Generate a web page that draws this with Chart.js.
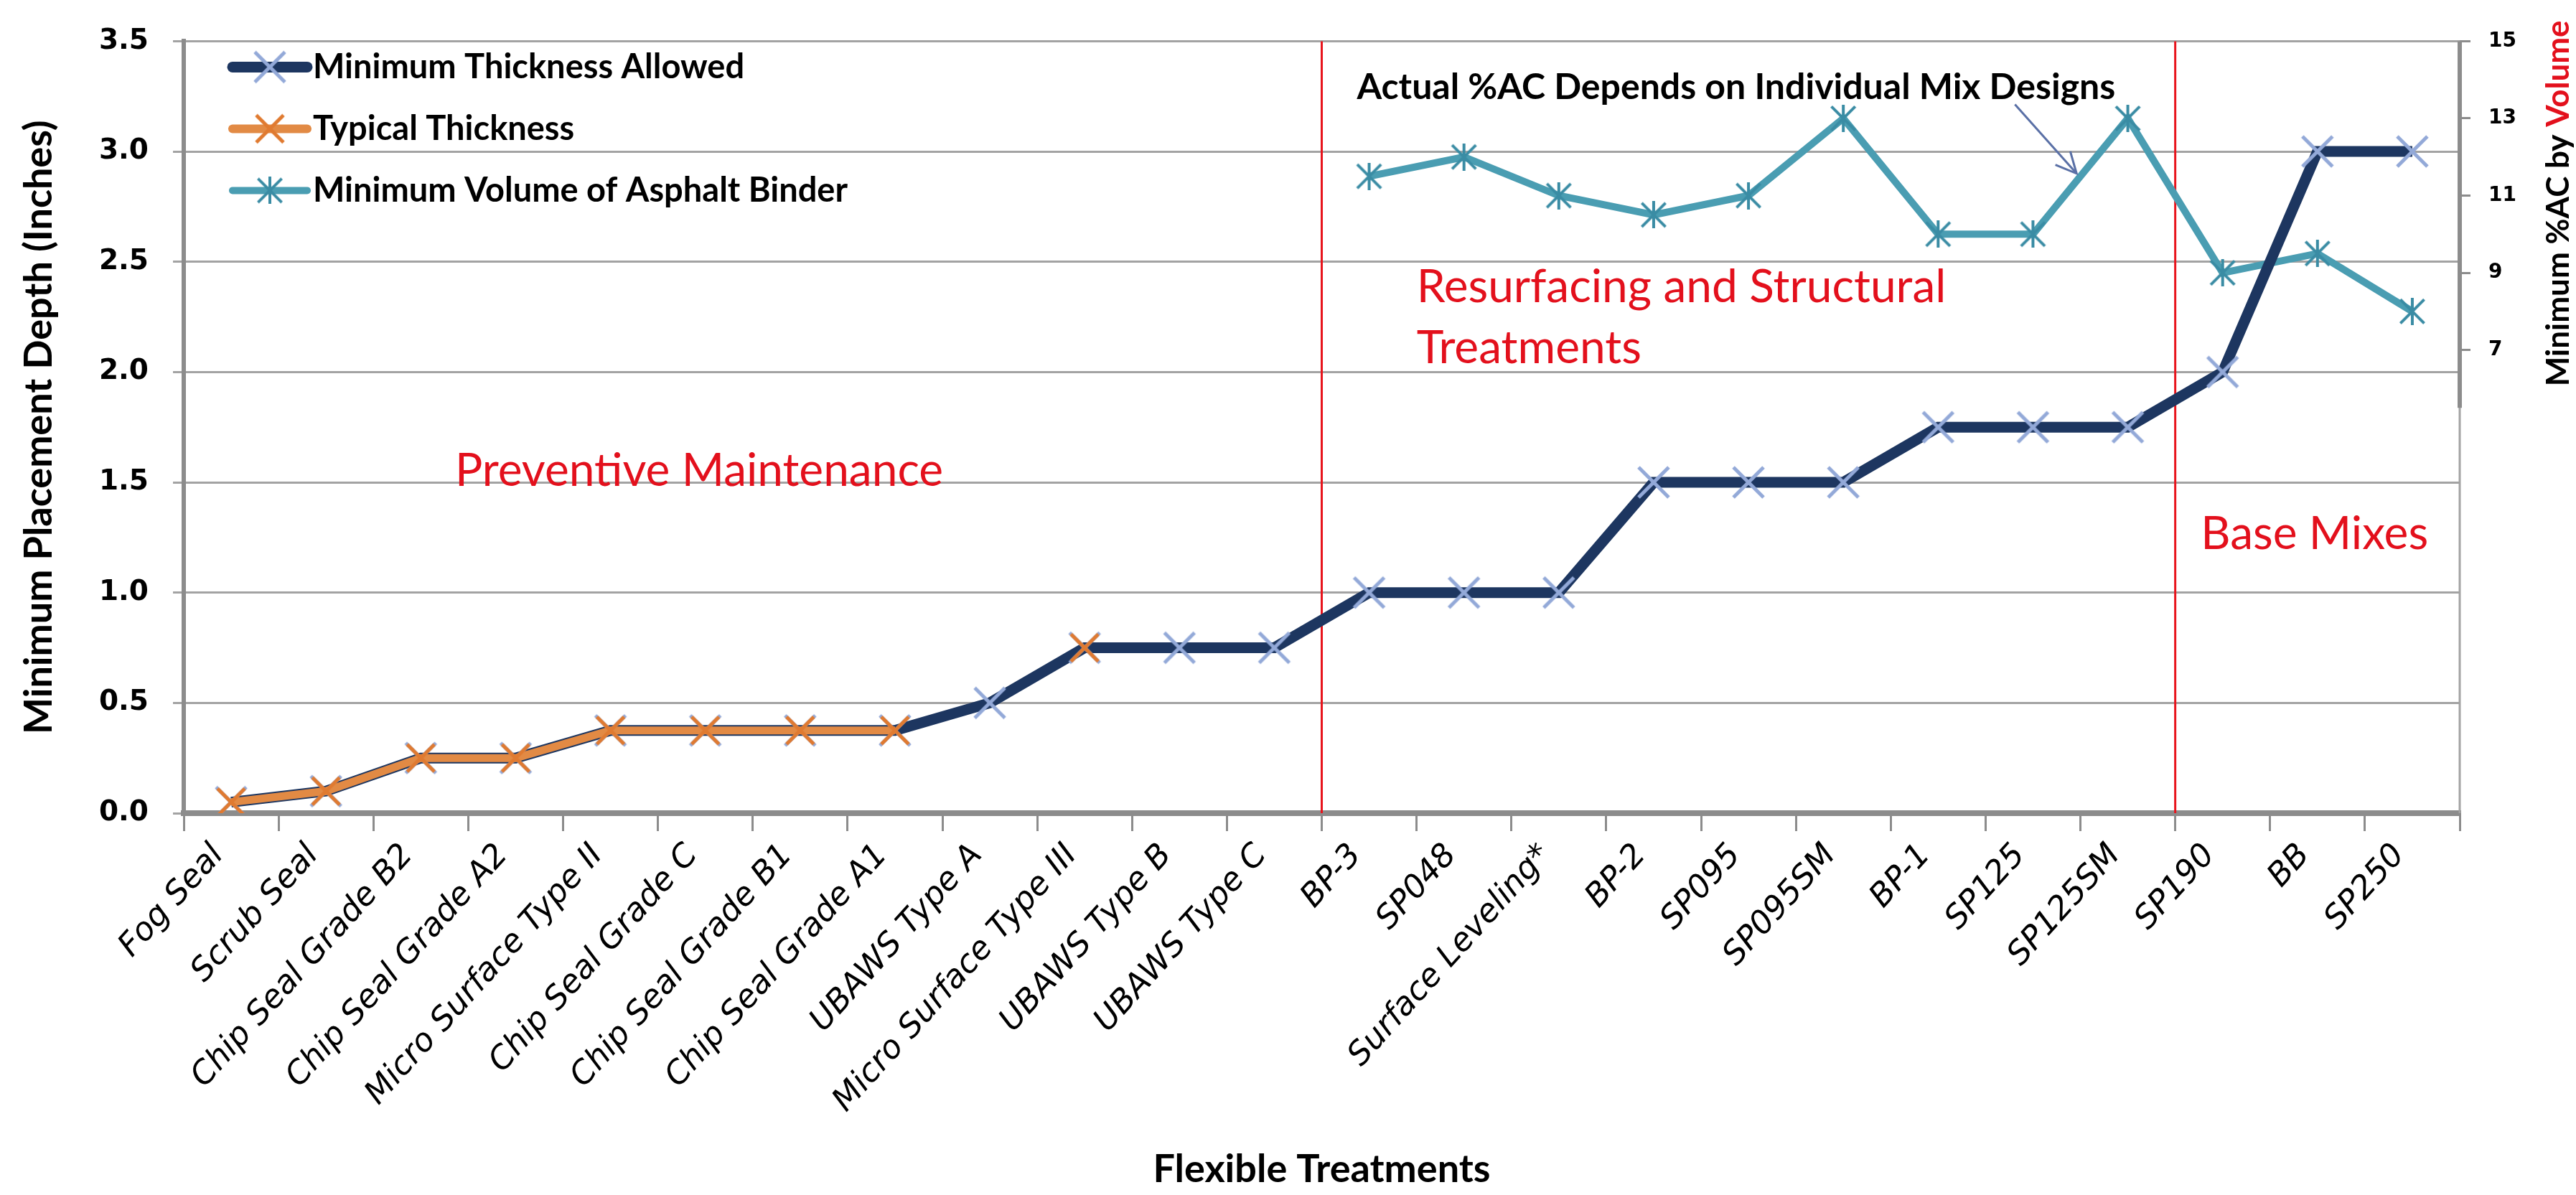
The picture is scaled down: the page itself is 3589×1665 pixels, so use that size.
<!DOCTYPE html>
<html>
<head>
<meta charset="utf-8">
<script src="https://cdn.jsdelivr.net/npm/chart.js@4.4.1/dist/chart.umd.min.js"></script>
<style>
  html, body { margin: 0; padding: 0; background: #fff; }
</style>
</head>
<body>
<canvas id="chart" width="3589" height="1665"></canvas>
<script>
"use strict";

// categories
const treatments = [
  "Fog Seal", "Scrub Seal", "Chip Seal Grade B2", "Chip Seal Grade A2",
  "Micro Surface Type II", "Chip Seal Grade C", "Chip Seal Grade B1", "Chip Seal Grade A1",
  "UBAWS Type A", "Micro Surface Type III", "UBAWS Type B", "UBAWS Type C",
  "BP-3", "SP048", "Surface Leveling*", "BP-2", "SP095", "SP095SM",
  "BP-1", "SP125", "SP125SM", "SP190", "BB", "SP250"
];

// series (inches, left axis)
const minThickness = [
  0.05, 0.1, 0.25, 0.25, 0.375, 0.375, 0.375, 0.375,
  0.5, 0.75, 0.75, 0.75, 1.0, 1.0, 1.0, 1.5, 1.5, 1.5,
  1.75, 1.75, 1.75, 2.0, 3.0, 3.0
];
const typicalThickness = [
  0.05, 0.1, 0.25, 0.25, 0.375, 0.375, 0.375, 0.375,
  null, 0.75, null, null, null, null, null, null, null, null,
  null, null, null, null, null, null
];
// series (%AC by volume, right axis)
const minBinderVolume = [
  null, null, null, null, null, null, null, null, null, null, null, null,
  11.5, 12, 11, 10.5, 11, 13, 10, 10, 13, 9, 9.5, 8
];

const acTicks = [7, 9, 11, 13, 15];
const sectionBreaks = [11.5, 20.5];

function starMarker(size, color, width, vertical) {
  const c = document.createElement("canvas");
  c.width = size; c.height = size;
  const g = c.getContext("2d");
  g.strokeStyle = color;
  g.lineWidth = width;
  const p = width * 0.6;
  g.beginPath();
  g.moveTo(p, p); g.lineTo(size - p, size - p);
  g.moveTo(size - p, p); g.lineTo(p, size - p);
  if (vertical) { g.moveTo(size / 2, 0); g.lineTo(size / 2, size); }
  g.stroke();
  return c;
}

const navyMark = starMarker(48, "#93a9d8", 5, false);
const orangeMark = starMarker(44, "#e07a30", 5, false);
const tealMark = starMarker(38, "#3a8ca4", 4, true);

const NAVY = "#1d3660", ORANGE = "#e28a44", TEAL = "#4a9db2";
const GRID = "#a3a3a3", AXIS = "#8c8c8c";

const legendItems = [
  ["Minimum Thickness Allowed", NAVY, 15, navyMark],
  ["Typical Thickness", ORANGE, 12, orangeMark],
  ["Minimum Volume of Asphalt Binder", TEAL, 10, tealMark]
];

const overlay = {
  id: "overlay",
  beforeDatasetsDraw(chart) {
    const { ctx, chartArea: a, scales } = chart;
    ctx.save();
    // right border of plot + secondary axis line
    ctx.strokeStyle = GRID; ctx.lineWidth = 3;
    ctx.beginPath(); ctx.moveTo(a.right, a.top); ctx.lineTo(a.right, a.bottom); ctx.stroke();
    ctx.strokeStyle = AXIS; ctx.lineWidth = 6;
    ctx.beginPath();
    ctx.moveTo(a.right, scales.y1.getPixelForValue(15));
    ctx.lineTo(a.right, scales.y1.getPixelForValue(5.5));
    ctx.stroke();
    // section separators
    ctx.strokeStyle = "#e8141c"; ctx.lineWidth = 3;
    sectionBreaks.forEach((b) => {
      const px = scales.x.getPixelForValue(b);
      ctx.beginPath(); ctx.moveTo(px, a.top); ctx.lineTo(px, a.bottom); ctx.stroke();
    });
    ctx.restore();
  },
  afterDraw(chart) {
    const { ctx, chartArea: a, scales } = chart;
    const x = scales.x, y = scales.y, y1 = scales.y1;
    ctx.save();
    ctx.textBaseline = "middle";
    ctx.textAlign = "left";

    // section labels
    ctx.fillStyle = "#e3101c";
    ctx.font = "64px Lato";
    ctx.fillText("Preventive Maintenance", x.getPixelForValue(2.36), y.getPixelForValue(1.55));
    ctx.fillText("Resurfacing and Structural", x.getPixelForValue(12.5), y.getPixelForValue(2.385));
    ctx.fillText("Treatments", x.getPixelForValue(12.5), y.getPixelForValue(2.108));
    ctx.fillText("Base Mixes", x.getPixelForValue(20.77), y.getPixelForValue(1.265));

    // note + arrow
    ctx.fillStyle = "#000";
    ctx.font = "bold 50px Lato";
    ctx.fillText("Actual %AC Depends on Individual Mix Designs", x.getPixelForValue(11.87), y.getPixelForValue(3.29));
    const sx = x.getPixelForValue(18.81), sy = y.getPixelForValue(3.213);
    const tx = x.getPixelForValue(19.46), ty = y.getPixelForValue(2.90);
    ctx.strokeStyle = "#5a70a6"; ctx.lineWidth = 3;
    ctx.beginPath(); ctx.moveTo(sx, sy); ctx.lineTo(tx, ty); ctx.stroke();
    const ang = Math.atan2(ty - sy, tx - sx);
    ctx.beginPath();
    ctx.moveTo(tx - 32 * Math.cos(ang - 0.45), ty - 32 * Math.sin(ang - 0.45));
    ctx.lineTo(tx, ty);
    ctx.lineTo(tx - 32 * Math.cos(ang + 0.45), ty - 32 * Math.sin(ang + 0.45));
    ctx.stroke();

    // legend
    ctx.font = "bold 47px Lato";
    legendItems.forEach(([label, color, w, mark], i) => {
      const ly = a.top + 36 + i * 86;
      const l0 = a.left + 68, l1 = a.left + 172;
      ctx.strokeStyle = color; ctx.lineWidth = w; ctx.lineCap = "round";
      ctx.beginPath(); ctx.moveTo(l0, ly); ctx.lineTo(l1, ly); ctx.stroke();
      ctx.drawImage(mark, (l0 + l1) / 2 - mark.width / 2, ly - mark.height / 2);
      ctx.fillStyle = "#000";
      ctx.fillText(label, a.left + 180, ly);
    });

    // right axis title, two colours
    ctx.font = "bold 44px Lato";
    const p1 = "Minimum %AC by ", p2 = "Volume";
    const w1 = ctx.measureText(p1).width, w2 = ctx.measureText(p2).width;
    ctx.translate(y1.right - 24, y1.getPixelForValue(10.8));
    ctx.rotate(-Math.PI / 2);
    ctx.fillStyle = "#000";
    ctx.fillText(p1, -(w1 + w2) / 2, 0);
    ctx.fillStyle = "#e3101c";
    ctx.fillText(p2, -(w1 + w2) / 2 + w1, 0);
    ctx.restore();
  }
};

new Chart(document.getElementById("chart"), {
  type: "line",
  data: {
    labels: treatments,
    datasets: [
      {
        label: "Minimum Thickness Allowed",
        data: minThickness,
        yAxisID: "y",
        borderColor: NAVY,
        borderWidth: 15,
        pointStyle: navyMark,
        pointRadius: 24,
        order: 2
      },
      {
        label: "Typical Thickness",
        data: typicalThickness,
        yAxisID: "y",
        borderColor: ORANGE,
        borderWidth: 11,
        pointStyle: orangeMark,
        pointRadius: 22,
        spanGaps: false,
        order: 1
      },
      {
        label: "Minimum Volume of Asphalt Binder",
        data: minBinderVolume,
        yAxisID: "y1",
        borderColor: TEAL,
        borderWidth: 10,
        pointStyle: tealMark,
        pointRadius: 19,
        order: 3
      }
    ]
  },
  options: {
    responsive: false,
    devicePixelRatio: 1,
    animation: false,
    events: [],
    layout: { padding: { top: 37, left: 0, right: 0, bottom: 0 } },
    plugins: { legend: { display: false }, tooltip: { enabled: false } },
    scales: {
      x: {
        offset: true,
        afterFit(s) { s.height = 532; },
        grid: { offset: true, drawOnChartArea: false, drawTicks: true, tickLength: 25, color: AXIS, lineWidth: 3 },
        border: { color: AXIS, width: 8 },
        ticks: {
          autoSkip: false, minRotation: 48, maxRotation: 48, padding: 8, labelOffset: -18, color: "#000",
          font: { family: "DejaVu Sans", size: 45, style: "italic" }
        },
        title: {
          display: true, text: "Flexible Treatments", color: "#000",
          font: { family: "Lato", size: 54, weight: "bold" },
          padding: { top: 0, bottom: 3 }
        }
      },
      y: {
        position: "left",
        min: 0, max: 3.5,
        afterFit(s) { s.width = 256; },
        grid: { color: GRID, lineWidth: 3, tickLength: 15 },
        border: { color: AXIS, width: 6 },
        ticks: {
          stepSize: 0.5, padding: 34, color: "#000",
          font: { family: "DejaVu Sans", size: 39, weight: "bold" },
          callback: (v) => v.toFixed(1)
        },
        title: {
          display: true, text: "Minimum Placement Depth (Inches)", color: "#000",
          font: { family: "Lato", size: 54, weight: "bold" },
          padding: { top: 22, bottom: 0 }
        }
      },
      y1: {
        position: "right",
        min: -5, max: 15,
        afterFit(s) { s.width = 162; },
        afterBuildTicks(s) { s.ticks = acTicks.map((v) => ({ value: v })); },
        grid: { drawOnChartArea: false, drawTicks: true, tickLength: 15, color: AXIS, lineWidth: 3 },
        border: { display: false },
        ticks: {
          padding: 25, color: "#000",
          font: { family: "DejaVu Sans", size: 28, weight: "bold" }
        }
      }
    }
  },
  plugins: [overlay]
});
</script>
</body>
</html>
